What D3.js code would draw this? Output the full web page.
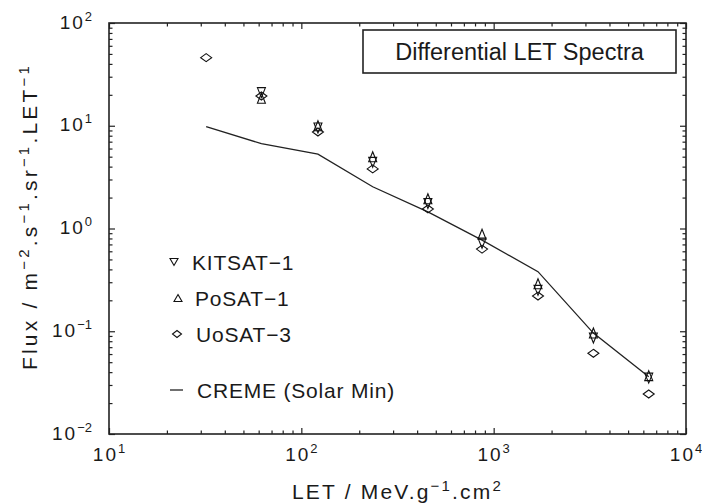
<!DOCTYPE html>
<html><head><meta charset="utf-8">
<script src="https://cdn.jsdelivr.net/npm/d3@7"></script>
<style>
body{margin:0;background:#fff}
svg{display:block}
text{font-family:"Liberation Sans",Arial,sans-serif;fill:#1a1a1a}
</style>
</head><body><svg id="c" width="702" height="504"></svg>
<script>
// ---- data ----
const letValues  = [32, 62, 122, 235, 455, 870, 1700, 3300, 6400];
const kitsatFlux = [null, 21, 9.5, 4.4, 1.75, 0.72, 0.25, 0.086, 0.035];
const posatFlux  = [null, 18.5, 10, 5.0, 1.95, 0.88, 0.29, 0.096, 0.037];
const uosatFlux  = [46, 19.5, 8.7, 3.8, 1.55, 0.63, 0.22, 0.061, 0.0245];
const cremeLet   = [32, 62, 122, 235, 455, 870, 1700, 3300, 6400];
const cremeFlux  = [9.8, 6.7, 5.3, 2.55, 1.45, 0.77, 0.38, 0.096, 0.036];
const xTickValues = [10, 100, 1000, 10000];
const xTickExps   = ["1", "2", "3", "4"];
const yTickValues = [0.01, 0.1, 1, 10, 100];
const yTickExps   = ["−2", "−1", "0", "1", "2"];
const seriesNames = ["KITSAT−1", "PoSAT−1", "UoSAT−3"];
const lineName = "CREME (Solar Min)";
const chartTitle = "Differential LET Spectra";

// ---- layout ----
const L = 109, R = 686, T = 23, B = 434;
const svg = d3.select("#c");
const x = d3.scaleLog().domain([10, 10000]).range([L, R]);
const y = d3.scaleLog().domain([0.01, 100]).range([B, T]);

function minors(domain) {
  const out = [];
  for (let d = domain[0]; d < domain[1]; d *= 10)
    for (let m = 2; m <= 9; m++) out.push(d * m);
  return out;
}
const xMinor = minors(x.domain()), yMinor = minors(y.domain());
const MAJ = 6, MIN = 3.5;

function drawAxis(gen, tx, ty, values, size) {
  const g = svg.append("g").attr("transform", `translate(${tx},${ty})`)
    .call(gen.tickValues(values).tickSizeInner(-size).tickSizeOuter(0).tickFormat(""));
  g.select(".domain").remove();
  g.selectAll(".tick line").attr("stroke", "#222").attr("stroke-width", 1.2);
}
[[xTickValues, MAJ], [xMinor, MIN]].forEach(([v, s]) => {
  drawAxis(d3.axisBottom(x), 0, B, v, s);
  drawAxis(d3.axisTop(x), 0, T, v, s);
});
[[yTickValues, MAJ], [yMinor, MIN]].forEach(([v, s]) => {
  drawAxis(d3.axisLeft(y), L, 0, v, s);
  drawAxis(d3.axisRight(y), R, 0, v, s);
});
svg.append("rect").attr("x", L).attr("y", T).attr("width", R - L).attr("height", B - T)
  .attr("fill", "none").attr("stroke", "#222").attr("stroke-width", 1.6);

// tick labels
const TFS = 19, SFS = 13;
xTickValues.forEach((v, i) => {
  const t = svg.append("text").attr("x", x(v)).attr("y", 461)
    .attr("text-anchor", "middle").attr("font-size", TFS).attr("letter-spacing", 2);
  t.append("tspan").text("10");
  t.append("tspan").attr("font-size", SFS).attr("dy", -8).attr("letter-spacing", 0).text(xTickExps[i]);
});
yTickValues.forEach((v, i) => {
  const t = svg.append("text").attr("x", 92).attr("y", y(v) + 5.5)
    .attr("text-anchor", "end").attr("font-size", TFS).attr("letter-spacing", 2);
  t.append("tspan").text("10");
  t.append("tspan").attr("font-size", SFS).attr("dy", -8).attr("letter-spacing", 0).text(yTickExps[i]);
});

// axis titles
function richText(sel, parts, fs, sfs) {
  parts.forEach(p => {
    if (p.sup) sel.append("tspan").attr("font-size", sfs).attr("dy", -8).text(p.sup);
    else sel.append("tspan").attr("font-size", fs).attr("dy", p.after ? 8 : 0).text(p.t);
  });
}
const xl = svg.append("text").attr("x", (L + R) / 2).attr("y", 499)
  .attr("text-anchor", "middle").attr("letter-spacing", 2.2);
richText(xl, [{t: "LET / MeV.g"}, {sup: "−1"}, {t: ".cm", after: true}, {sup: "2"}], 21, 15);

const yl = svg.append("text").attr("transform", `translate(37,${(T + B) / 2 - 12}) rotate(-90)`)
  .attr("text-anchor", "middle").attr("letter-spacing", 3.2);
richText(yl, [{t: "Flux / m"}, {sup: "−2"}, {t: ".s", after: true}, {sup: "−1"},
  {t: ".sr", after: true}, {sup: "−1"}, {t: ".LET", after: true}, {sup: "−1"}], 21, 15);

// ---- markers ----
const shapes = {
  down: (w, h) => `M${-w},${-h}L${w},${-h}L0,${h}Z`,
  up: (w, h) => `M0,${-h}L${w},${h}L${-w},${h}Z`,
  diamond: (w, h) => `M0,${-h}L${w},0L0,${h}L${-w},0Z`
};
const seriesDefs = [
  {vals: kitsatFlux, shape: "down", w: 4, h: 5},
  {vals: posatFlux, shape: "up", w: 4, h: 5},
  {vals: uosatFlux, shape: "diamond", w: 5.5, h: 4}
];

// CREME line
const line = d3.line().x(d => x(d[0])).y(d => y(d[1]));
svg.append("path").datum(cremeLet.map((v, i) => [v, cremeFlux[i]]))
  .attr("d", line).attr("fill", "none").attr("stroke", "#222").attr("stroke-width", 1.3);

seriesDefs.forEach(s => {
  svg.append("g").selectAll("path")
    .data(letValues.map((v, i) => [v, s.vals[i]]).filter(d => d[1] != null))
    .join("path")
    .attr("transform", d => `translate(${x(d[0])},${y(d[1])})`)
    .attr("d", shapes[s.shape](s.w, s.h))
    .attr("fill", "none").attr("stroke", "#111").attr("stroke-width", 1.1);
});

// ---- legend ----
const LFS = 21;
const legY = [262, 298, 334];
const legMX = [174, 178, 177];
const legTX = [192, 195, 196];
seriesDefs.forEach((s, i) => {
  svg.append("path").attr("transform", `translate(${legMX[i]},${legY[i]})`)
    .attr("d", shapes[s.shape](s.shape === "diamond" ? 4.5 : 4, 3.5))
    .attr("fill", "none").attr("stroke", "#111").attr("stroke-width", 1.1);
  svg.append("text").attr("x", legTX[i]).attr("y", legY[i] + 7.5)
    .attr("font-size", LFS).attr("letter-spacing", 0.8).text(seriesNames[i]);
});
svg.append("line").attr("x1", 170).attr("x2", 183).attr("y1", 390).attr("y2", 390)
  .attr("stroke", "#222").attr("stroke-width", 1.3);
svg.append("text").attr("x", 197).attr("y", 397.5)
  .attr("font-size", LFS).attr("letter-spacing", 0.8).text(lineName);

// ---- title box ----
svg.append("rect").attr("x", 363).attr("y", 30).attr("width", 313).attr("height", 43)
  .attr("fill", "#fff").attr("stroke", "#222").attr("stroke-width", 1.6);
svg.append("text").attr("x", 519.5).attr("y", 59.5).attr("text-anchor", "middle")
  .attr("font-size", 23.5).text(chartTitle);
</script>
</body></html>
